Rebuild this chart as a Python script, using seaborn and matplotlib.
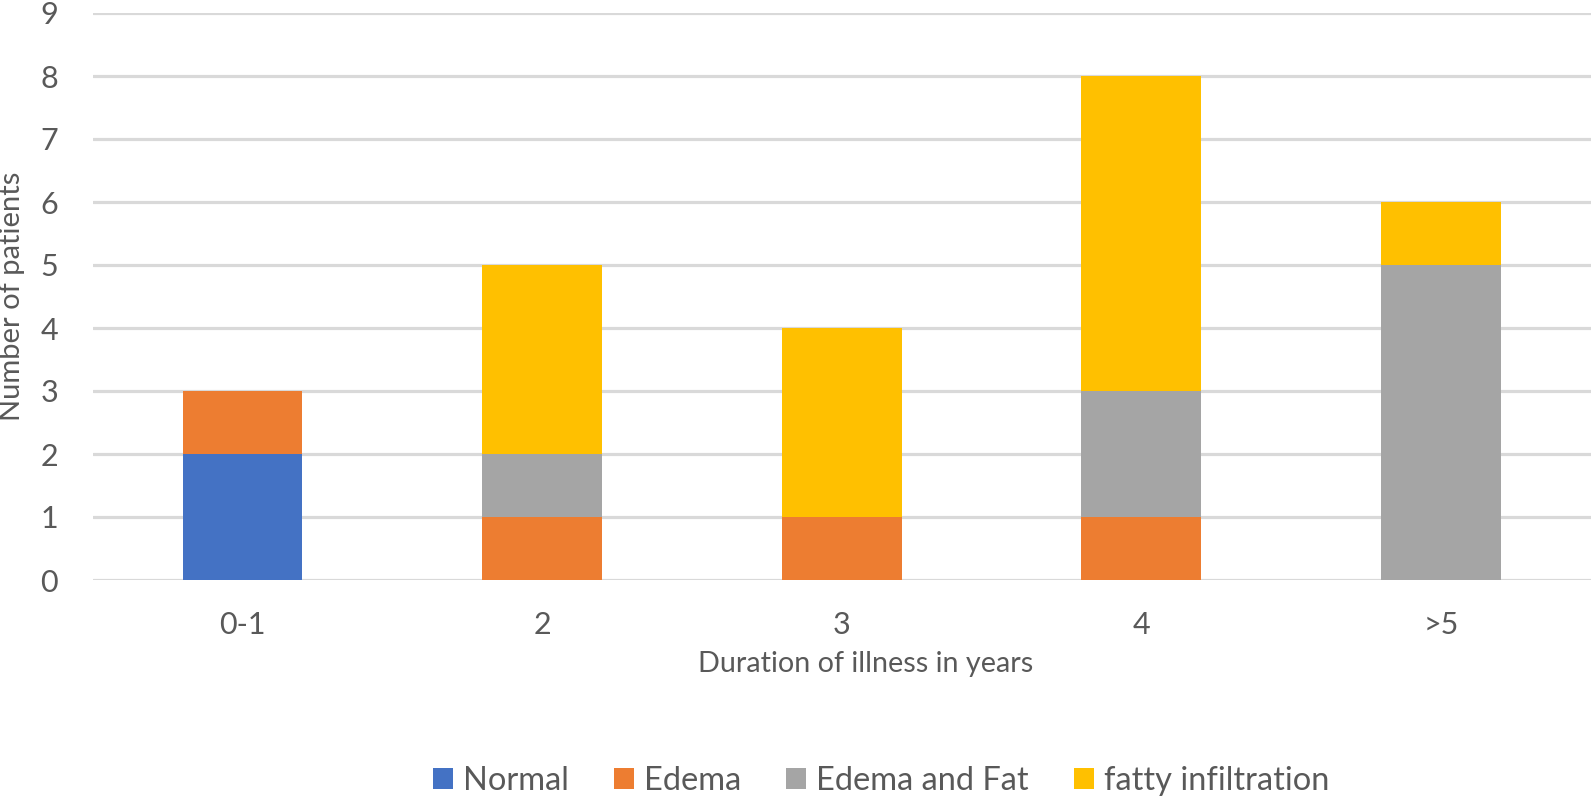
import numpy as np
import pandas as pd
import matplotlib
matplotlib.use("Agg")
import matplotlib.pyplot as plt
import seaborn as sns
from matplotlib.patches import Patch

categories = ["0-1", "2", "3", "4", ">5"]
normal = [2, 0, 0, 0, 0]
edema = [1, 1, 1, 1, 0]
edema_fat = [0, 1, 0, 2, 5]
fatty = [0, 3, 3, 5, 1]
series_names = ["Normal", "Edema", "Edema and Fat", "fatty infiltration"]
series_colors = ["#4472C4", "#ED7D31", "#A5A5A5", "#FFC000"]
y_ticks = list(range(0, 10))
x_label = "Duration of illness in years"
y_label = "Number of patients"

sns.set_theme(style="white")
plt.rcParams["font.family"] = ["Lato", "DejaVu Sans"]

fig = plt.figure(figsize=(15.91, 7.99), dpi=100)
W, H = 1591, 799
ax = fig.add_axes([92.7 / W, 1 - 580 / H, 1498 / W, 567 / H])

series = [normal, edema, edema_fat, fatty]
bottom = np.zeros(len(categories))
for name, vals, col in zip(series_names, series, series_colors):
    df = pd.DataFrame({"cat": categories, "val": vals})
    sns.barplot(data=df, x="cat", y="val", order=categories, color=col,
                width=0.4, bottom=bottom.copy(), ax=ax, zorder=3,
                linewidth=0, saturation=1, errorbar=None)
    bottom += np.array(vals)

ax.set_xlim(-0.5, 4.5)
ax.set_ylim(0, 9)
ax.set_yticks(y_ticks)
ax.set_yticklabels([str(t) for t in y_ticks])
ax.yaxis.grid(True, color="#D9D9D9", linewidth=2.3, zorder=0)
ax.set_axisbelow(True)
for s in ax.spines.values():
    s.set_visible(False)
ax.tick_params(axis="both", length=0, labelsize=22, colors="#595959")
ax.tick_params(axis="y", pad=25)
ax.tick_params(axis="x", pad=22)
ax.set_xlabel("")
ax.set_ylabel("")

fig.text(865.5 / W, 1 - 672 / H, x_label, ha="center", va="baseline",
         fontsize=20.7, color="#595959")
fig.text(12.5 / W, 1 - 296 / H, y_label, ha="center", va="center",
         rotation=90, fontsize=21, color="#595959")

handles = [Patch(facecolor=c, edgecolor="none", label=n)
           for n, c in zip(series_names, series_colors)]
fig.legend(handles=handles, loc="center", bbox_to_anchor=(881 / W, 1 - 781 / H),
           ncol=4, frameon=False, fontsize=23.5, labelcolor="#595959",
           handlelength=0.613, handleheight=0.613, handletextpad=0.31,
           columnspacing=1.38, borderpad=0)

fig.savefig("out.png", dpi=100)
